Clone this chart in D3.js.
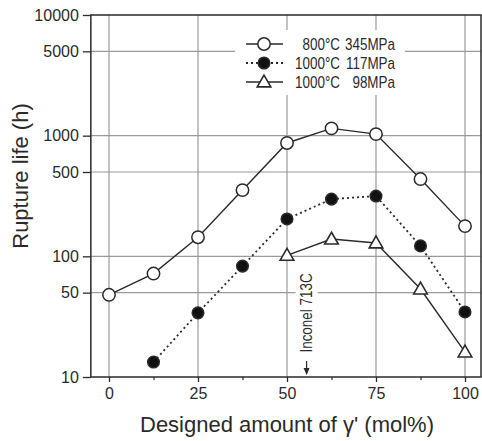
<!DOCTYPE html>
<html>
<head>
<meta charset="utf-8">
<script src="https://cdn.jsdelivr.net/npm/d3@7"></script>
<style>
  body { margin: 0; background: #fff; }
  svg { display: block; font-family: "Liberation Sans", Arial, sans-serif; }
</style>
</head>
<body>
<svg id="chart" width="482" height="441"></svg>
<script>
// x positions (mol% of gamma prime)
const xs800 = [0, 12.5, 25, 37.5, 50, 62.5, 75, 87.5, 100];
const life800 = [48, 72, 144, 354, 870, 1150, 1030, 437, 178];

const xs1000a = [12.5, 25, 37.5, 50, 62.5, 75, 87.5, 100];
const life1000a = [13.3, 34, 83, 204, 298, 316, 122, 34.6];

const xs1000b = [50, 62.5, 75, 87.5, 100];
const life1000b = [102, 139, 129, 53.6, 16.1];

const xTicks = [0, 25, 50, 75, 100];
const xMinor = [12.5, 37.5, 62.5, 87.5];
const yTicks = [10, 50, 100, 500, 1000, 5000, 10000];
const yGrid = [50, 100, 500, 1000, 5000];

const legendTemp = ["800\u00b0C", "1000\u00b0C", "1000\u00b0C"];
const legendStress = ["345MPa", "117MPa", "98MPa"];

const inconelX = 55.5;

const svg = d3.select("#chart");
const ink = "#2a2a2a";
const squeeze = 0.84; // condensed look of the small labels

const x = d3.scaleLinear().domain([0, 100]).range([109, 465]);
const y = d3.scaleLog().domain([10, 10000]).range([377, 15]);
const pLeft = x(-5.1), pRight = x(104.5), pTop = y(10000), pBottom = y(10);

// grid
svg.append("g").selectAll("line").data(xTicks).join("line")
    .attr("x1", d => x(d)).attr("x2", d => x(d))
    .attr("y1", pTop).attr("y2", pBottom)
    .attr("stroke", "#9a9a9a").attr("stroke-width", 1.2);
svg.append("g").selectAll("line").data(yGrid).join("line")
    .attr("x1", pLeft).attr("x2", pRight)
    .attr("y1", d => y(d)).attr("y2", d => y(d))
    .attr("stroke", "#9a9a9a").attr("stroke-width", 1.2);

// white boxes behind legend and annotation
svg.append("rect").attr("x", 235).attr("y", 30).attr("width", 170).attr("height", 65).attr("fill", "#fff");
svg.append("rect").attr("x", x(inconelX) - 11).attr("y", 268).attr("width", 22).attr("height", 90).attr("fill", "#fff");

// frame
svg.append("rect").attr("x", pLeft).attr("y", pTop)
    .attr("width", pRight - pLeft).attr("height", pBottom - pTop)
    .attr("fill", "none").attr("stroke", ink).attr("stroke-width", 1.5);

// axes
svg.append("g").attr("transform", `translate(0,${pBottom})`)
    .call(d3.axisBottom(x).tickValues(xTicks).tickSize(5).tickPadding(6).tickFormat(d3.format("d")))
    .call(g => g.select(".domain").remove())
    .call(g => g.selectAll("line").attr("stroke", ink).attr("stroke-width", 1.3))
    .call(g => g.selectAll("text").attr("fill", ink).attr("font-size", 16)
        .attr("font-family", "Liberation Sans, Arial, sans-serif"));
svg.append("g").attr("transform", `translate(0,${pBottom})`)
    .call(d3.axisBottom(x).tickValues(xMinor).tickSize(3).tickFormat(""))
    .call(g => g.select(".domain").remove())
    .call(g => g.selectAll("line").attr("stroke", ink).attr("stroke-width", 1.2));

svg.append("g").attr("transform", `translate(${pLeft},0)`)
    .call(d3.axisLeft(y).tickValues(yTicks).tickSize(8).tickPadding(4).tickFormat(d3.format("d")))
    .call(g => g.select(".domain").remove())
    .call(g => g.selectAll("line").attr("stroke", ink).attr("stroke-width", 1.3))
    .call(g => g.selectAll("text").attr("fill", ink).attr("font-size", 16)
        .attr("font-family", "Liberation Sans, Arial, sans-serif"));

// axis titles
svg.append("text").attr("x", 287).attr("y", 432).attr("text-anchor", "middle")
    .attr("font-size", 22).attr("fill", ink)
    .text("Designed amount of \u03b3' (mol%)");
svg.append("text").attr("transform", "translate(28,176) rotate(-90)")
    .attr("text-anchor", "middle").attr("font-size", 22).attr("fill", ink)
    .text("Rupture life (h)");

// series
const line = d3.line().x(d => x(d[0])).y(d => y(d[1]));
const tri = d3.symbol().type(d3.symbolTriangle).size(80);

function series(xs, vals, dash, marker) {
    const pts = xs.map((v, i) => [v, vals[i]]);
    svg.append("path").datum(pts).attr("d", line)
        .attr("fill", "none").attr("stroke", ink).attr("stroke-width", dash ? 1.8 : 1.4)
        .attr("stroke-dasharray", dash || null);
    const g = svg.append("g");
    if (marker === "tri") {
        g.selectAll("path").data(pts).join("path").attr("d", tri)
            .attr("transform", d => `translate(${x(d[0])},${y(d[1]) + 1})`)
            .attr("fill", "#fff").attr("stroke", ink).attr("stroke-width", 1.6);
    } else {
        g.selectAll("circle").data(pts).join("circle")
            .attr("cx", d => x(d[0])).attr("cy", d => y(d[1]))
            .attr("r", marker === "filled" ? 5.8 : 6.2)
            .attr("fill", marker === "filled" ? "#111" : "#fff")
            .attr("stroke", ink).attr("stroke-width", 1.5);
    }
}
series(xs800, life800, null, "open");
series(xs1000a, life1000a, "2,3", "filled");
series(xs1000b, life1000b, null, "tri");

// legend
const legY = [44, 63, 82];
const lg = svg.append("g");
legY.forEach((ly, i) => {
    lg.append("line").attr("x1", 246).attr("x2", 283).attr("y1", ly).attr("y2", ly)
        .attr("stroke", ink).attr("stroke-width", i === 1 ? 1.8 : 1.4)
        .attr("stroke-dasharray", i === 1 ? "2,3" : null);
    if (i === 2) {
        lg.append("path").attr("d", tri).attr("transform", `translate(264,${ly + 1})`)
            .attr("fill", "#fff").attr("stroke", ink).attr("stroke-width", 1.6);
    } else {
        lg.append("circle").attr("cx", 264).attr("cy", ly).attr("r", i === 1 ? 5.8 : 6.2)
            .attr("fill", i === 1 ? "#111" : "#fff").attr("stroke", ink).attr("stroke-width", 1.5);
    }
    lg.append("text").attr("transform", `translate(340,${ly + 6}) scale(${squeeze},1)`)
        .attr("text-anchor", "end").attr("font-size", 16).attr("fill", ink).text(legendTemp[i]);
    lg.append("text").attr("transform", `translate(395,${ly + 6}) scale(${squeeze},1)`)
        .attr("text-anchor", "end").attr("font-size", 16).attr("fill", ink).text(legendStress[i]);
});

// Inconel 713C annotation
const ax = x(inconelX);
svg.append("text")
    .attr("transform", `translate(${ax + 5},313) rotate(-90) scale(${squeeze},1)`)
    .attr("text-anchor", "middle").attr("font-size", 16).attr("fill", ink)
    .text("Inconel 713C");
svg.append("line").attr("x1", ax).attr("x2", ax).attr("y1", 361).attr("y2", 374)
    .attr("stroke", ink).attr("stroke-width", 1.2);
svg.append("path").attr("d", `M${ax - 3},${368} L${ax + 3},${368} L${ax},${375} Z`).attr("fill", ink);
</script>
</body>
</html>
